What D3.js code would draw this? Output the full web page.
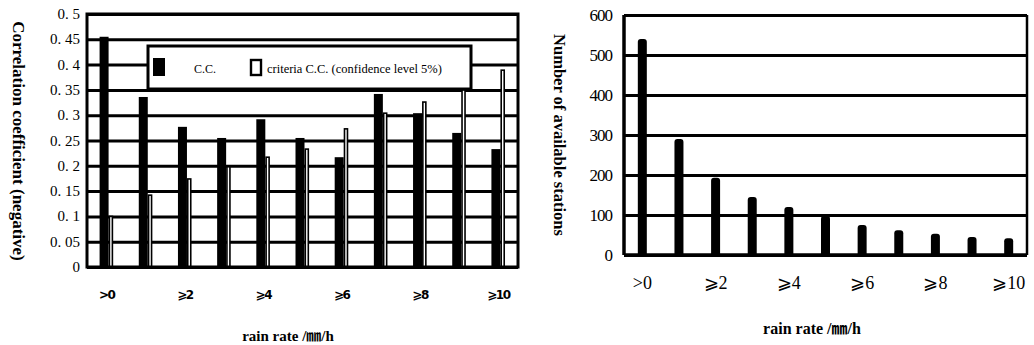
<!DOCTYPE html>
<html>
<head>
<meta charset="utf-8">
<script src="https://cdn.jsdelivr.net/npm/d3@7"></script>
<style>
  body { margin: 0; background: #fff; }
  text { font-family: "Liberation Serif", "Noto Sans CJK SC", serif; fill: #000; }
  .grid line { stroke: #000; stroke-width: 3; }
  .grid path { display: none; }
</style>
</head>
<body>
<svg id="chart" width="1034" height="345"></svg>
<script>
// categories (rain rate thresholds), only every second one is labelled
var categories = [">0", "≥1", "≥2", "≥3", "≥4", "≥5", "≥6", "≥7", "≥8", "≥9", "≥10"];
var shownLabels = [">0", "≥2", "≥4", "≥6", "≥8", "≥10"];

// left chart: correlation coefficient (negative)
var ccValues = [0.455, 0.336, 0.277, 0.255, 0.292, 0.255, 0.217, 0.342, 0.304, 0.265, 0.233];
var criteriaValues = [0.10, 0.142, 0.174, 0.198, 0.217, 0.233, 0.273, 0.304, 0.326, 0.35, 0.389];
var leftTicks = [0, 0.05, 0.1, 0.15, 0.2, 0.25, 0.3, 0.35, 0.4, 0.45, 0.5];

// right chart: number of available stations
var stationCounts = [540, 290, 193, 145, 120, 98, 75, 62, 53, 45, 42];
var rightTicks = [0, 100, 200, 300, 400, 500, 600];

var svg = d3.select("#chart");

function fmtLeft(d) {
  if (d === 0) return "0";
  var s = String(+d.toFixed(2));
  return s.replace(".", ". ");
}

// ---------------- left chart ----------------
var L = {x0: 87, x1: 518, y0: 14, y1: 267};
var xL = d3.scaleBand().domain(categories).range([L.x0, L.x1]).padding(0);
var yL = d3.scaleLinear().domain([0, 0.5]).range([L.y1, L.y0]);

var gL = svg.append("g");

gL.append("g")
  .attr("class", "grid")
  .attr("transform", `translate(${L.x0},0)`)
  .call(d3.axisLeft(yL).tickValues(leftTicks).tickSize(-(L.x1 - L.x0)).tickFormat(""));

// C.C. bars
gL.selectAll("rect.cc")
  .data(ccValues)
  .enter()
  .append("rect")
  .attr("class", "cc")
  .attr("x", (d, i) => xL(categories[i]) + xL.bandwidth() / 2 - 7)
  .attr("width", 9)
  .attr("y", d => yL(d))
  .attr("height", d => yL(0) - yL(d))
  .attr("fill", "#000");

// criteria bars
gL.selectAll("rect.crit")
  .data(criteriaValues)
  .enter()
  .append("rect")
  .attr("class", "crit")
  .attr("x", (d, i) => xL(categories[i]) + xL.bandwidth() / 2 + 2.8)
  .attr("width", 3)
  .attr("y", d => yL(d))
  .attr("height", d => yL(0) - yL(d))
  .attr("fill", "#fff")
  .attr("stroke", "#000")
  .attr("stroke-width", 1.6);

// frame
gL.append("rect")
  .attr("x", L.x0).attr("y", L.y0)
  .attr("width", L.x1 - L.x0).attr("height", L.y1 - L.y0)
  .attr("fill", "none").attr("stroke", "#000").attr("stroke-width", 3);

// y tick labels
gL.selectAll("text.yt")
  .data(leftTicks)
  .enter()
  .append("text")
  .attr("class", "yt")
  .attr("x", 80)
  .attr("y", d => yL(d) + 5)
  .attr("text-anchor", "end")
  .style("font-size", "15px")
  .text(fmtLeft);

// x tick labels
gL.selectAll("text.xt")
  .data(shownLabels)
  .enter()
  .append("text")
  .attr("class", "xt")
  .attr("x", d => xL(d) + xL.bandwidth() / 2)
  .attr("y", 299)
  .attr("text-anchor", "middle")
  .style("font-size", "12px")
  .style("font-weight", "bold")
  .style("font-family", "'DejaVu Sans', sans-serif")
  .style("letter-spacing", "-1.5px")
  .text(d => d === ">0" ? ">0" : d.replace("≥", "⩾"));

// legend
var leg = gL.append("g");
leg.append("rect")
  .attr("x", 148).attr("y", 46).attr("width", 323).attr("height", 43)
  .attr("fill", "#fff").attr("stroke", "#000").attr("stroke-width", 3);
leg.append("rect")
  .attr("x", 153).attr("y", 58).attr("width", 12).attr("height", 18).attr("fill", "#000");
leg.append("text")
  .attr("x", 194).attr("y", 73).style("font-size", "12px").text("C.C.");
leg.append("rect")
  .attr("x", 251).attr("y", 60).attr("width", 10).attr("height", 15)
  .attr("fill", "#fff").attr("stroke", "#000").attr("stroke-width", 2.4);
leg.append("text")
  .attr("x", 267).attr("y", 73).style("font-size", "12.5px")
  .text("criteria C.C. (confidence level 5%)");

// axis titles
gL.append("text")
  .attr("transform", "translate(13,141) rotate(90)")
  .attr("text-anchor", "middle")
  .style("font-size", "17px")
  .style("font-weight", "bold")
  .text("Correlation coefficient (negative)");

gL.append("text")
  .attr("x", 288).attr("y", 341)
  .attr("text-anchor", "middle")
  .style("font-size", "15px")
  .style("font-weight", "bold")
  .text("rain rate /㎜/h");

// ---------------- right chart ----------------
var R = {x0: 624, x1: 1027, y0: 15, y1: 255};
var xR = d3.scaleBand().domain(categories).range([R.x0, R.x1]).padding(0);
var yR = d3.scaleLinear().domain([0, 600]).range([R.y1, R.y0]);

var gR = svg.append("g");

gR.append("g")
  .attr("class", "grid")
  .attr("transform", `translate(${R.x0},0)`)
  .call(d3.axisLeft(yR).tickValues(rightTicks).tickSize(-(R.x1 - R.x0)).tickFormat(""));

// station bars with rounded tops
gR.selectAll("path.st")
  .data(stationCounts)
  .enter()
  .append("path")
  .attr("class", "st")
  .attr("d", function(d, i) {
    var w = 9, r = 3;
    var x = xR(categories[i]) + xR.bandwidth() / 2 - w / 2;
    var y = yR(d), b = yR(0);
    return `M${x},${b} L${x},${y + r} Q${x},${y} ${x + r},${y} L${x + w - r},${y} Q${x + w},${y} ${x + w},${y + r} L${x + w},${b} Z`;
  })
  .attr("fill", "#000");

// frame: thick left/top/bottom, thinner right
gR.append("line").attr("x1", R.x0).attr("x2", R.x0).attr("y1", R.y0).attr("y2", R.y1)
  .attr("stroke", "#000").attr("stroke-width", 3.5);
gR.append("line").attr("x1", R.x1).attr("x2", R.x1).attr("y1", R.y0).attr("y2", R.y1)
  .attr("stroke", "#000").attr("stroke-width", 2.5);
gR.append("line").attr("x1", R.x0).attr("x2", R.x1).attr("y1", R.y1).attr("y2", R.y1)
  .attr("stroke", "#000").attr("stroke-width", 3.5);

// y tick labels
gR.selectAll("text.yt")
  .data(rightTicks)
  .enter()
  .append("text")
  .attr("class", "yt")
  .attr("x", 612)
  .attr("y", d => yR(d) + 6)
  .attr("text-anchor", "end")
  .style("font-size", "17px")
  .style("letter-spacing", "-1px")
  .text(d => d);

// x tick labels
gR.selectAll("text.xt")
  .data(shownLabels)
  .enter()
  .append("text")
  .attr("class", "xt")
  .attr("x", d => xR(d) + xR.bandwidth() / 2)
  .attr("y", 289)
  .attr("text-anchor", "middle")
  .style("font-size", "18px")
  .text(d => d === ">0" ? ">0" : d.replace("≥", "⩾"));

// axis titles
gR.append("text")
  .attr("transform", "translate(554,135) rotate(90)")
  .attr("text-anchor", "middle")
  .style("font-size", "16.5px")
  .style("font-weight", "bold")
  .text("Number of available stations");

gR.append("text")
  .attr("x", 812).attr("y", 334)
  .attr("text-anchor", "middle")
  .style("font-size", "16px")
  .style("font-weight", "bold")
  .text("rain rate /㎜/h");
</script>
</body>
</html>
